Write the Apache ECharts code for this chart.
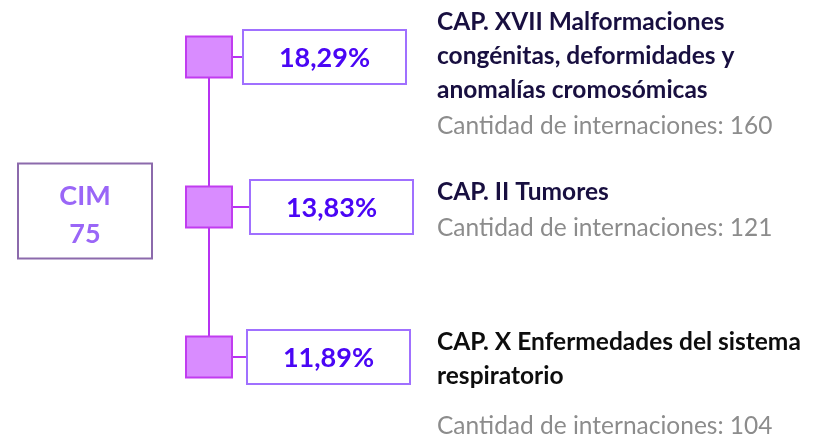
<!DOCTYPE html>
<html>
<head>
<meta charset="utf-8">
<script src="https://cdn.jsdelivr.net/npm/echarts@6/dist/echarts.min.js"></script>
<style>
    html, body {margin:0;padding:0;background:#ffffff;}
    #chart {width:819px;height:444px;}
</style>
</head>
<body>
<div id="chart"></div>
<script>
    // datos del gráfico
    var chapters = [
        'CAP. XVII Malformaciones\ncongénitas, deformidades y\nanomalías cromosómicas',
        'CAP. II Tumores',
        'CAP. X Enfermedades del sistema\nrespiratorio'
    ];
    var shares = [18.29, 13.83, 11.89];
    var counts = [160, 121, 104];
    var cimLabel = 'CIM';
    var cimCode = 75;

    // posiciones y estilos (no son datos)
    var nodeX = 209;
    var boxLeft = [243, 250, 247];
    var titleTop = [-52, -32, -32];
    var countTop = [52, 4, 52];
    var titleColor = ['#180f40', '#180f40', '#0d0d0d'];
    var FONT = 'Lato, "Open Sans", sans-serif';

    var rows = chapters.map(function (t, i) { return String(i); });

    function fmtPct(v) {
        return v.toFixed(2).replace('.', ',') + '%';
    }

    var chart = echarts.init(document.getElementById('chart'), null, {renderer: 'canvas'});

    var option = {
        animation: false,
        grid: {left: 0, right: 0, top: 57, bottom: 87},
        xAxis: {type: 'value', min: 0, max: 819, show: false},
        yAxis: {type: 'category', data: rows, inverse: true, boundaryGap: false, show: false},
        series: [
            {
                // línea vertical que une los nodos
                type: 'line',
                data: rows.map(function (r, i) { return [nodeX, i]; }),
                symbol: 'none',
                lineStyle: {color: '#b733f2', width: 2},
                z: 1
            },
            {
                // nodos, porcentajes y textos
                type: 'custom',
                data: chapters.map(function (t, i) { return [nodeX, i]; }),
                z: 2,
                renderItem: function (params, api) {
                    var i = params.dataIndex;
                    var c = api.coord([api.value(0), api.value(1)]);
                    var cx = c[0], cy = c[1];
                    var bx = api.coord([boxLeft[i], i])[0];
                    var tx = api.coord([437, i])[0];
                    return {
                        type: 'group',
                        children: [
                            {
                                type: 'line',
                                shape: {x1: cx + 23, y1: cy, x2: bx, y2: cy},
                                style: {stroke: '#b733f2', lineWidth: 2}
                            },
                            {
                                type: 'rect',
                                shape: {x: cx - 23, y: cy - 20.5, width: 46, height: 41},
                                style: {fill: '#d98cff', stroke: '#c13cf0', lineWidth: 2}
                            },
                            {
                                type: 'rect',
                                shape: {x: bx, y: cy - 27, width: 163, height: 54},
                                style: {fill: '#ffffff', stroke: '#a070ff', lineWidth: 2}
                            },
                            {
                                type: 'text',
                                style: {
                                    text: fmtPct(shares[i]),
                                    x: bx + 81.5, y: cy + 1,
                                    align: 'center', verticalAlign: 'middle',
                                    font: 'bold 27px ' + FONT,
                                    fill: '#4a06f5'
                                }
                            },
                            {
                                type: 'text',
                                style: {
                                    text: chapters[i],
                                    x: tx, y: cy + titleTop[i],
                                    align: 'left', verticalAlign: 'top',
                                    lineHeight: 34,
                                    font: 'bold 24.5px ' + FONT,
                                    fill: titleColor[i]
                                }
                            },
                            {
                                type: 'text',
                                style: {
                                    text: 'Cantidad de internaciones: ' + counts[i],
                                    x: tx, y: cy + countTop[i],
                                    align: 'left', verticalAlign: 'top',
                                    lineHeight: 34,
                                    font: '24.5px ' + FONT,
                                    fill: '#8c8c8c'
                                }
                            }
                        ]
                    };
                }
            },
            {
                // recuadro CIM
                type: 'custom',
                data: [[85, 1]],
                z: 2,
                renderItem: function (params, api) {
                    var c = api.coord([api.value(0), api.value(1)]);
                    var cx = c[0], cy = c[1] + 4;
                    return {
                        type: 'group',
                        children: [
                            {
                                type: 'rect',
                                shape: {x: cx - 67, y: cy - 47.5, width: 134, height: 95},
                                style: {fill: '#ffffff', stroke: '#8c6aac', lineWidth: 2}
                            },
                            {
                                type: 'text',
                                style: {
                                    text: cimLabel + '\n' + cimCode,
                                    x: cx, y: cy + 4,
                                    align: 'center', verticalAlign: 'middle',
                                    lineHeight: 38,
                                    font: 'bold 27px ' + FONT,
                                    fill: '#9a66f7'
                                }
                            }
                        ]
                    };
                }
            }
        ]
    };

    chart.setOption(option);

    window.onresize = function () {
        chart.resize();
    };
</script>
</body>
</html>
